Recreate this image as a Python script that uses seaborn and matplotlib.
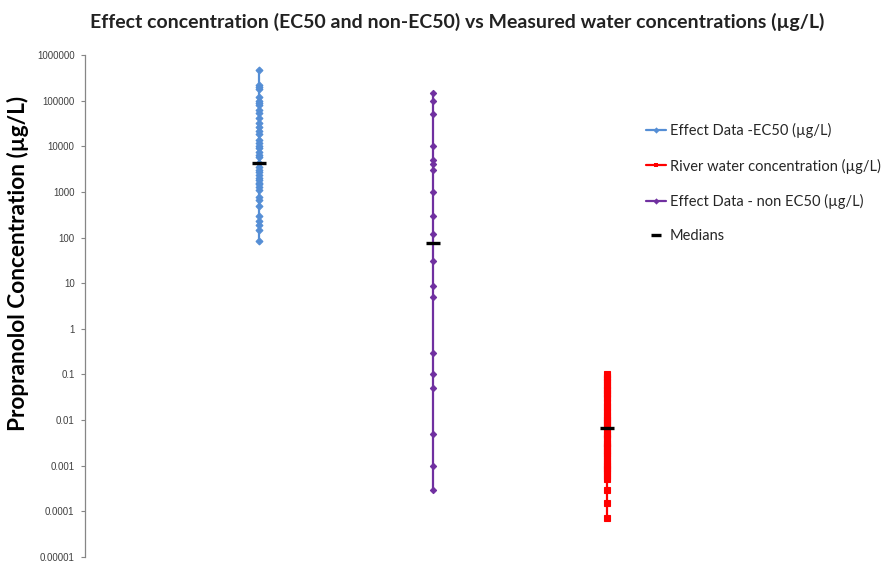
import numpy as np
import pandas as pd
import seaborn as sns
import matplotlib.pyplot as plt
from matplotlib.lines import Line2D
from matplotlib.ticker import NullLocator

# Effect concentrations with EC50 endpoints (µg/L)
ec50 = [470000, 220000, 200000, 180000, 120000, 100000, 90000, 80000, 62000,
        53000, 42000, 32000, 27000, 22000, 19000, 14000, 12000, 10000, 9000,
        7500, 6400, 5700, 4200, 3500, 3000, 2700, 2300, 2000, 1800, 1600, 1500,
        1300, 1100, 780, 650, 480, 300, 230, 190, 150, 82]

# Effect concentrations with other endpoints (µg/L)
non_ec50 = [150000, 100000, 50000, 10000, 5000, 4000, 3000, 1000, 300, 120,
            30, 8.5, 5, 0.3, 0.1, 0.05, 0.005, 0.001, 0.0003]

# Measured river water concentrations (µg/L)
river = [0.1, 0.09, 0.08, 0.07, 0.06, 0.05, 0.045, 0.04, 0.035, 0.03, 0.025,
         0.02, 0.018, 0.015, 0.013, 0.011, 0.01, 0.009, 0.008, 0.007, 0.006,
         0.005, 0.0045, 0.004, 0.0032, 0.003, 0.0027, 0.0024, 0.0021, 0.0019,
         0.0017, 0.0015, 0.0013, 0.0011, 0.001, 0.0009, 0.0008, 0.0007, 0.0006,
         0.0005, 0.0003, 0.00015, 0.00007]

medians = [4200, 75, 0.0068]

series_labels = ["Effect Data -EC50 (µg/L)", "Effect Data - non EC50 (µg/L)",
                 "River water concentration (µg/L)"]
median_label = "Medians"
tick_values = [1e-5, 1e-4, 1e-3, 1e-2, 1e-1, 1, 10, 100, 1000, 10000, 100000, 1000000]
tick_labels = ["0.00001", "0.0001", "0.001", "0.01", "0.1", "1", "10", "100",
               "1000", "10000", "100000", "1000000"]
title = "Effect concentration (EC50 and non-EC50) vs Measured water concentrations (µg/L)"
ylabel = "Propranolol Concentration (µg/L)"

sns.set_theme(style="white")
plt.rcParams["font.family"] = ["Lato", "DejaVu Sans"]

colors = ["#558ED5", "#7030A0", "#FF0000"]
markers = ["D", "D", "s"]
msizes = [3.5, 3.2, 4.2]

fig = plt.figure(figsize=(8.83, 5.62), dpi=100)
ax = fig.add_axes([85 / 883, 5 / 562, (781 - 85) / 883, (557 - 55) / 562])
ax.set_facecolor("none")
ax.set_yscale("log")

handles = []
for i, (vals, lab) in enumerate(zip([ec50, non_ec50, river], series_labels)):
    df = pd.DataFrame({"pos": np.full(len(vals), i + 1.0), "value": vals})
    sns.lineplot(data=df, x="pos", y="value", orient="y", sort=True,
                 estimator=None, errorbar=None, color=colors[i],
                 marker=markers[i], markersize=msizes[i], markeredgewidth=0.8,
                 markeredgecolor=colors[i], linewidth=1.6, ax=ax, legend=False)
    handles.append(Line2D([0], [0], color=colors[i], marker=markers[i],
                          markersize=3.2, linewidth=1.6, markeredgewidth=0))

med_df = pd.DataFrame({"pos": [1.0, 2.0, 3.0], "value": medians})
sns.scatterplot(data=med_df, x="pos", y="value", marker="_", s=110,
                linewidth=2.4, color="black", zorder=5, ax=ax, legend=False)
med_handle = Line2D([0], [0], color="black", marker="_", markersize=7,
                    markeredgewidth=2.4, linestyle="none")

ax.set_xlim(0, 4)
ax.set_ylim(1e-5, 1e6)
ax.set_yticks(tick_values)
ax.set_yticklabels(tick_labels, family="Liberation Sans")
ax.yaxis.set_minor_locator(NullLocator())
ax.set_xticks([])
ax.set_xlabel("")
ax.set_ylabel("")
ax.tick_params(axis="y", which="major", direction="out", left=True, length=3,
               width=0.8, color="#868686", labelsize=7, labelcolor="#404040", pad=4.5)
for side in ["top", "right", "bottom"]:
    ax.spines[side].set_visible(False)
ax.spines["left"].set_color("#868686")
ax.spines["left"].set_linewidth(0.9)

fig.text(457 / 883, 1 - 22 / 562, title, ha="center", va="center",
         fontsize=14, fontweight="bold", color="#222222")
fig.text(18 / 883, 1 - 263 / 562, ylabel, rotation=90, ha="center",
         va="center", fontsize=16.3, fontweight="bold", color="black")

leg_handles = [handles[0], handles[2], handles[1], med_handle]
leg_labels = [series_labels[0], series_labels[2], series_labels[1], median_label]
fig.legend(leg_handles, leg_labels, loc="upper left",
           bbox_to_anchor=(646 / 883, 1 - 123 / 562), frameon=False,
           fontsize=10.5, handlelength=1.4, handletextpad=0.25,
           labelspacing=1.4, borderaxespad=0, borderpad=0)

fig.savefig("out.png", dpi=100)
